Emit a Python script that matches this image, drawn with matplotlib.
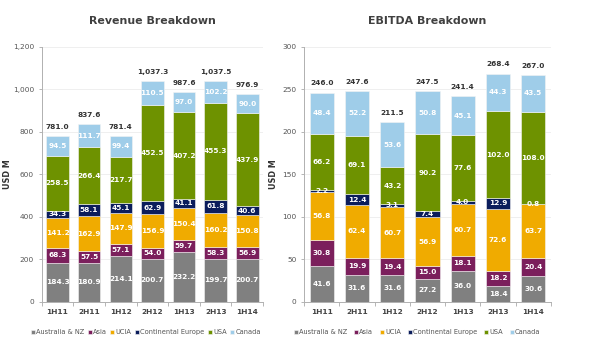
import matplotlib.pyplot as plt
import numpy as np

periods = ["1H11", "2H11", "1H12", "2H12", "1H13", "2H13", "1H14"]
regions = ["Australia & NZ", "Asia", "UCIA", "Continental Europe", "USA", "Canada"]
colors = ["#808080", "#7b1f5c", "#f0ab00", "#0b1d5c", "#6e9200", "#9fcde9"]

# revenue by region, USD M
rev_anz = [184.3, 180.9, 214.1, 200.7, 232.2, 199.7, 200.7]
rev_asia = [68.3, 57.5, 57.1, 54.0, 59.7, 58.3, 56.9]
rev_ucia = [141.2, 162.9, 147.9, 156.9, 150.4, 160.2, 150.8]
rev_ce = [34.3, 58.1, 45.1, 62.9, 41.1, 61.8, 40.6]
rev_usa = [258.5, 266.4, 217.7, 452.5, 407.2, 455.3, 437.9]
rev_canada = [94.5, 111.7, 99.4, 110.5, 97.0, 102.2, 90.0]
rev_total = ["781.0", "837.6", "781.4", "1,037.3", "987.6", "1,037.5", "976.9"]

# EBITDA by region, USD M
ebitda_anz = [41.6, 31.6, 31.6, 27.2, 36.0, 18.4, 30.6]
ebitda_asia = [30.8, 19.9, 19.4, 15.0, 18.1, 18.2, 20.4]
ebitda_ucia = [56.8, 62.4, 60.7, 56.9, 60.7, 72.6, 63.7]
ebitda_ce = [2.2, 12.4, 3.1, 7.4, 4.0, 12.9, 0.8]
ebitda_usa = [66.2, 69.1, 43.2, 90.2, 77.6, 102.0, 108.0]
ebitda_canada = [48.4, 52.2, 53.6, 50.8, 45.1, 44.3, 43.5]
ebitda_total = ["246.0", "247.6", "211.5", "247.5", "241.4", "268.4", "267.0"]

fig = plt.figure(figsize=(6, 3.48), dpi=100)
ax1 = fig.add_axes([0.0695, 0.133, 0.369, 0.733])
ax2 = fig.add_axes([0.507, 0.133, 0.411, 0.733])


def stacked(ax, series, totals, ymax, step, width, fmt, title, legend_x, ylab_x, colsp):
    x = np.arange(len(periods))
    bottom = np.zeros(len(periods))
    for vals, col, name in zip(series, colors, regions):
        vals = np.array(vals)
        ax.bar(x, vals, width, bottom=bottom, color=col, edgecolor="#f4f4f4",
               linewidth=0.4, label=name, zorder=2)
        for xi, b, v in zip(x, bottom, vals):
            ax.text(xi, b + v / 2, f"{v:.1f}", ha="center", va="center",
                    color="white", fontsize=5.3, fontweight="bold", zorder=3)
        bottom += vals
    for xi, top, t in zip(x, bottom, totals):
        ax.text(xi, top + ymax * 0.024, t, ha="center", va="bottom",
                color="#333333", fontsize=5.3, fontweight="bold")

    ax.set_xlim(-0.5, len(periods) - 0.5)
    ax.set_ylim(0, ymax)
    ax.set_yticks(np.arange(0, ymax + 1, step))
    ax.yaxis.set_major_formatter(plt.FuncFormatter(fmt))
    ax.set_xticks(x)
    ax.set_xticklabels(periods, fontweight="bold")
    ax.set_xticks(np.arange(-0.5, len(periods)), minor=True)
    ax.tick_params(axis="x", which="major", length=0, labelsize=5.3,
                   labelcolor="#444444", pad=5)
    ax.tick_params(axis="x", which="minor", length=3, color="#aaaaaa", width=0.6)
    ax.tick_params(axis="y", length=2, color="#aaaaaa", width=0.6,
                   labelsize=5.3, labelcolor="#555555")
    ax.grid(axis="y", color="#ececec", linewidth=0.6, zorder=0)
    ax.set_axisbelow(True)
    for s in ["top", "right"]:
        ax.spines[s].set_visible(False)
    for s in ["left", "bottom"]:
        ax.spines[s].set_color("#b0b0b0")
        ax.spines[s].set_linewidth(0.7)
    ax.set_ylabel("USD M", fontsize=5.8, fontweight="bold", color="#333333")
    ax.yaxis.set_label_coords(ylab_x, 0.5)
    ax.set_title(title, fontsize=7.9, fontweight="bold", color="#404040", pad=16)
    ax.legend(loc="center", bbox_to_anchor=(legend_x, 0.046),
              bbox_transform=fig.transFigure, ncol=6, frameon=False,
              fontsize=4.8, handlelength=0.6, handleheight=0.6,
              handletextpad=0.2, columnspacing=colsp, labelcolor="#555555")


stacked(ax1, [rev_anz, rev_asia, rev_ucia, rev_ce, rev_usa, rev_canada],
        rev_total, 1200, 200, 0.71, lambda v, p: f"{v:,.0f}",
        "Revenue Breakdown", 0.243, -0.135, 0.5)
stacked(ax2, [ebitda_anz, ebitda_asia, ebitda_ucia, ebitda_ce, ebitda_usa, ebitda_canada],
        ebitda_total, 300, 50, 0.69, lambda v, p: f"{v:.0f}",
        "EBITDA Breakdown", 0.695, -0.105, 1.0)

fig.savefig("out.png", dpi=100)
